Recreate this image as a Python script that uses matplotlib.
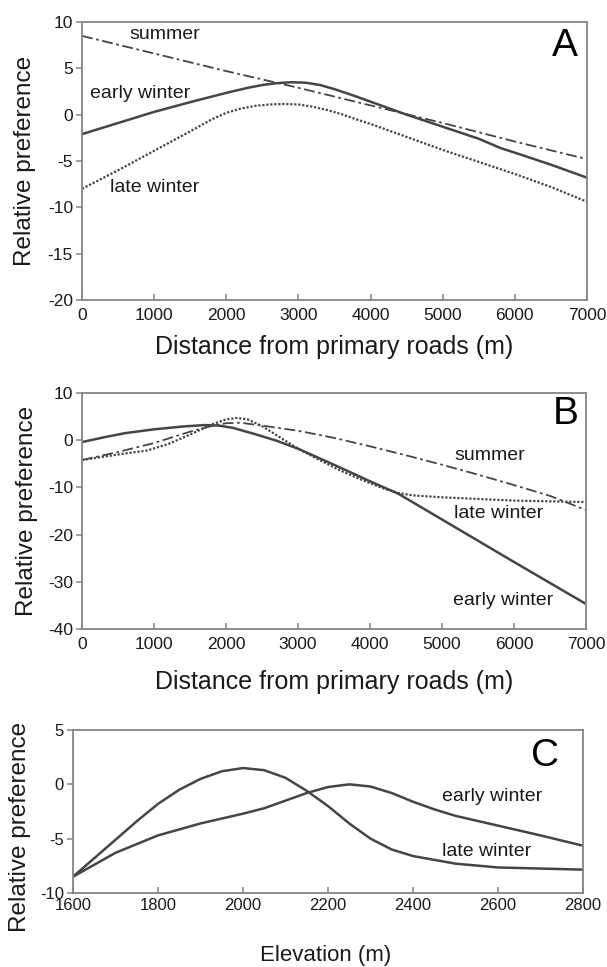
import matplotlib
matplotlib.use("Agg")
import matplotlib.pyplot as plt

plt.rcParams['font.family'] = ['Liberation Sans', 'DejaVu Sans']
plt.rcParams['axes.unicode_minus'] = False

# Panel A: distance from primary roads
a_summer_x = [0, 1000, 2000, 3000, 4000, 5000, 6000, 7000]
a_summer_y = [8.5, 6.6, 4.7, 2.9, 1.0, -0.9, -2.9, -4.8]
a_early_x = [0, 500, 1000, 1500, 2000, 2300, 2500, 2700, 2900, 3100, 3300, 3500, 3750,
             4000, 4500, 5000, 5500, 5800, 6000, 6500, 7000]
a_early_y = [-2.1, -0.9, 0.3, 1.35, 2.35, 2.9, 3.2, 3.4, 3.5, 3.45, 3.2, 2.75, 2.1,
             1.4, 0.0, -1.3, -2.6, -3.6, -4.1, -5.4, -6.8]
a_late_x = [0, 500, 1000, 1500, 1800, 2000, 2200, 2400, 2600, 2800, 3000, 3200, 3400,
            3600, 3800, 4000, 4500, 5000, 5500, 6000, 6500, 7000]
a_late_y = [-8.0, -6.0, -3.9, -1.8, -0.5, 0.2, 0.65, 0.95, 1.1, 1.15, 1.1, 0.85, 0.5,
            0.05, -0.5, -1.0, -2.4, -3.8, -5.1, -6.4, -7.8, -9.4]

# Panel B: distance from primary roads
b_early_x = [0, 300, 600, 1000, 1400, 1700, 1900, 2100, 2400, 2700, 3000, 3500, 4000,
             4400, 5000, 6000, 7000]
b_early_y = [-0.4, 0.6, 1.5, 2.3, 2.9, 3.2, 3.1, 2.6, 1.3, -0.1, -1.8, -5.2, -8.7,
             -11.4, -16.8, -25.8, -34.7]
b_summer_x = [0, 500, 1000, 1500, 1800, 2000, 2200, 2500, 3000, 3500, 4000, 4500, 5000,
              5500, 6000, 6500, 7000]
b_summer_y = [-4.2, -2.5, -0.6, 1.8, 3.0, 3.6, 3.7, 3.1, 2.0, 0.5, -1.3, -3.2, -5.2,
              -7.3, -9.5, -11.8, -14.8]
b_late_x = [0, 300, 600, 900, 1200, 1500, 1800, 2000, 2150, 2300, 2500, 2750, 3000, 3300,
            3600, 3900, 4200, 4400, 4600, 5000, 6000, 7000]
b_late_y = [-4.2, -3.5, -2.8, -2.2, -0.8, 1.2, 3.3, 4.4, 4.7, 4.4, 3.0, 0.6, -1.8, -4.2,
            -6.5, -8.5, -10.3, -11.2, -11.7, -12.1, -12.8, -13.1]

# Panel C: elevation
c_early_x = [1600, 1700, 1800, 1900, 2000, 2050, 2100, 2150, 2200, 2250, 2300, 2350, 2400,
             2450, 2500, 2600, 2700, 2800]
c_early_y = [-8.5, -6.3, -4.7, -3.6, -2.7, -2.2, -1.5, -0.8, -0.25, 0.0, -0.2, -0.8, -1.6,
             -2.3, -2.9, -3.8, -4.7, -5.65]
c_late_x = [1600, 1650, 1700, 1750, 1800, 1850, 1900, 1950, 2000, 2050, 2100, 2150, 2200,
            2250, 2300, 2350, 2400, 2500, 2600, 2700, 2800]
c_late_y = [-8.5, -6.8, -5.1, -3.4, -1.8, -0.5, 0.5, 1.2, 1.5, 1.3, 0.6, -0.6, -2.0,
            -3.6, -5.0, -6.0, -6.6, -7.3, -7.65, -7.75, -7.85]

W, H = 607, 967
fig = plt.figure(figsize=(W / 100, H / 100), dpi=100)

def box(l, t, r, b):
    return [l / W, 1 - b / H, (r - l) / W, (b - t) / H]

line_col = '#454545'
spine_col = '#858585'
text_col = '#1a1a1a'
dashdot = (0, (6, 2, 1.5, 2))
dots = (0, (1, 0.8))

def style(ax, fs, xpad=6):
    for s in ax.spines.values():
        s.set_color(spine_col)
        s.set_linewidth(1.3)
    ax.tick_params(axis='y', direction='out', length=4, width=1.1, color=spine_col,
                   labelsize=fs, labelcolor=text_col, pad=2.5)
    ax.tick_params(axis='x', direction='in', length=4, width=1.1, color=spine_col,
                   labelsize=fs, labelcolor=text_col, pad=xpad)

# A
ax = fig.add_axes(box(82, 22, 587, 300))
ax.plot(a_summer_x, a_summer_y, color=line_col, lw=1.3, ls=dashdot)
ax.plot(a_early_x, a_early_y, color=line_col, lw=1.8)
ax.plot(a_late_x, a_late_y, color=line_col, lw=1.6, ls=dots)
ax.set_xlim(0, 7000)
ax.set_ylim(-20, 10)
ax.set_xticks(range(0, 7001, 1000))
ax.set_yticks(range(-20, 11, 5))
style(ax, 12.5)
ax.text(1150, 8.6, 'summer', fontsize=14, ha='center', va='center', color=text_col)
ax.text(800, 2.3, 'early winter', fontsize=14, ha='center', va='center', color=text_col)
ax.text(1010, -7.9, 'late winter', fontsize=14, ha='center', va='center', color=text_col)
ax.text(6700, 7.4, 'A', fontsize=28, ha='center', va='center', color='black')
fig.text(25 / W, 1 - 161 / H, 'Relative preference', rotation=90, fontsize=17.5,
         ha='center', va='center', color=text_col)
fig.text(334 / W, 1 - 347 / H, 'Distance from primary roads (m)', fontsize=18,
         ha='center', va='center', color=text_col)

# B
ax = fig.add_axes(box(82, 393, 586, 629))
ax.plot(b_summer_x, b_summer_y, color=line_col, lw=1.3, ls=dashdot)
ax.plot(b_early_x, b_early_y, color=line_col, lw=1.8)
ax.plot(b_late_x, b_late_y, color=line_col, lw=1.6, ls=dots)
ax.set_xlim(0, 7000)
ax.set_ylim(-40, 10)
ax.set_xticks(range(0, 7001, 1000))
ax.set_yticks(range(-40, 11, 10))
style(ax, 12.5)
ax.text(5660, -3.2, 'summer', fontsize=14, ha='center', va='center', color=text_col)
ax.text(5790, -15.5, 'late winter', fontsize=14, ha='center', va='center', color=text_col)
ax.text(5850, -33.9, 'early winter', fontsize=14, ha='center', va='center', color=text_col)
ax.text(6720, 5.5, 'B', fontsize=28, ha='center', va='center', color='black')
fig.text(27 / W, 1 - 511 / H, 'Relative preference', rotation=90, fontsize=17.5,
         ha='center', va='center', color=text_col)
fig.text(334 / W, 1 - 682 / H, 'Distance from primary roads (m)', fontsize=18,
         ha='center', va='center', color=text_col)

# C
ax = fig.add_axes(box(73, 730, 583, 893))
ax.plot(c_early_x, c_early_y, color=line_col, lw=1.8)
ax.plot(c_late_x, c_late_y, color=line_col, lw=1.8)
ax.set_xlim(1600, 2800)
ax.set_ylim(-10, 5)
ax.set_xticks(range(1600, 2801, 200))
ax.set_yticks([-10, -5, 0, 5])
style(ax, 12, xpad=3.5)
ax.text(2587, -1.1, 'early winter', fontsize=14, ha='center', va='center', color=text_col)
ax.text(2573, -6.2, 'late winter', fontsize=14, ha='center', va='center', color=text_col)
ax.text(2710, 2.6, 'C', fontsize=28, ha='center', va='center', color='black')
fig.text(20 / W, 1 - 827 / H, 'Relative preference', rotation=90, fontsize=17.5,
         ha='center', va='center', color=text_col)
fig.text(326 / W, 1 - 955 / H, 'Elevation (m)', fontsize=16,
         ha='center', va='center', color=text_col)

fig.savefig('out.png', dpi=100)
